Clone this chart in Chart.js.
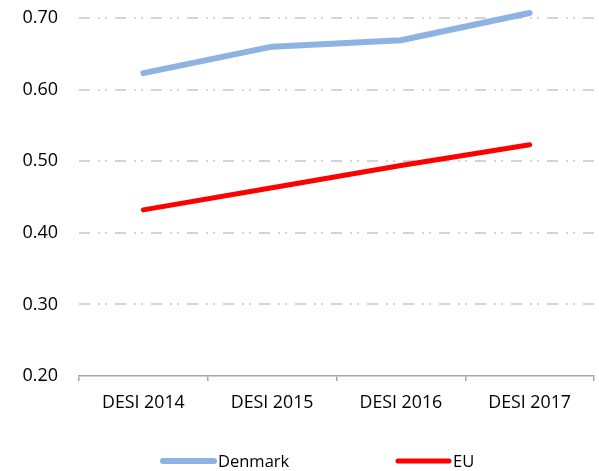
<!DOCTYPE html>
<html>
<head>
<meta charset="utf-8">
<script src="https://cdn.jsdelivr.net/npm/chart.js@4"></script>
<style>
  html, body { margin: 0; padding: 0; background: #fff; }
  #wrap { width: 599px; height: 471px; }
</style>
</head>
<body>
<div id="wrap"><canvas id="chartDesi"></canvas></div>
<script>
// valeurs
const categories = ['DESI 2014', 'DESI 2015', 'DESI 2016', 'DESI 2017'];
const denmark = [0.623, 0.660, 0.669, 0.707];
const eu = [0.432, 0.463, 0.494, 0.523];
const yTicks = [0.20, 0.30, 0.40, 0.50, 0.60, 0.70];

const FONT = "'Open Sans', 'Liberation Sans', sans-serif";

// legende dessinee a la main (espacement large comme dans l'original)
const legendPlugin = {
    id: 'bottomLegend',
    afterDraw(chart) {
        const ctx = chart.ctx;
        const items = [{ x: 161 }, { x: 396 }];
        ctx.save();
        ctx.font = `16.5px ${FONT}`;
        ctx.textBaseline = 'middle';
        chart.data.datasets.forEach((ds, i) => {
            const y = 461;
            const x = items[i].x;
            ctx.strokeStyle = ds.borderColor;
            ctx.lineWidth = ds.borderWidth;
            ctx.lineCap = 'round';
            ctx.beginPath();
            ctx.moveTo(x + 2, y);
            ctx.lineTo(x + 53, y);
            ctx.stroke();
            ctx.fillStyle = '#000';
            ctx.fillText(ds.label, x + 57, y + 1);
        });
        ctx.restore();
    }
};

new Chart(document.getElementById('chartDesi'), {
    type: 'line',
    data: {
        labels: categories,
        datasets: [
            {
                label: 'Denmark',
                data: denmark,
                borderColor: '#8db3e2',
                borderWidth: 6,
                pointRadius: 0,
                borderCapStyle: 'round',
                borderJoinStyle: 'round',
                fill: false
            },
            {
                label: 'EU',
                data: eu,
                borderColor: '#ff0000',
                borderWidth: 5,
                pointRadius: 0,
                borderCapStyle: 'round',
                borderJoinStyle: 'round',
                fill: false
            }
        ]
    },
    options: {
        responsive: true,
        maintainAspectRatio: false,
        animation: false,
        clip: false,
        layout: { padding: { top: 18, right: 5, bottom: 0, left: 0 } },
        plugins: {
            legend: { display: false },
            tooltip: { enabled: false }
        },
        scales: {
            x: {
                offset: true,
                afterFit: (scale) => { scale.height = 95; scale.paddingLeft = 0; scale.paddingRight = 0; },
                grid: {
                    offset: true,
                    drawOnChartArea: false,
                    drawTicks: true,
                    tickLength: 5,
                    color: '#a6a6a6',
                    lineWidth: 1.5
                },
                border: { display: true, color: '#a6a6a6', width: 1.5 },
                ticks: {
                    color: '#000',
                    padding: 11,
                    maxRotation: 0,
                    font: { family: FONT, size: 17.8 }
                }
            },
            y: {
                min: 0.2,
                max: 0.7,
                afterFit: (scale) => { scale.width = 79; scale.paddingTop = 0; scale.paddingBottom = 0; },
                afterBuildTicks: (scale) => {
                    scale.ticks = yTicks.map(v => ({ value: v }));
                },
                grid: {
                    drawTicks: false,
                    color: (c) => c.tick && Math.abs(c.tick.value - 0.2) < 1e-6 ? 'rgba(0,0,0,0)' : '#d4d4d4',
                    lineWidth: 2
                },
                border: { display: false, dash: [11, 8, 2, 5, 2, 8] },
                ticks: {
                    color: '#000',
                    padding: 21,
                    font: { family: FONT, size: 18 },
                    callback: (v) => Number(v).toFixed(2)
                }
            }
        }
    },
    plugins: [legendPlugin]
});
</script>
</body>
</html>
